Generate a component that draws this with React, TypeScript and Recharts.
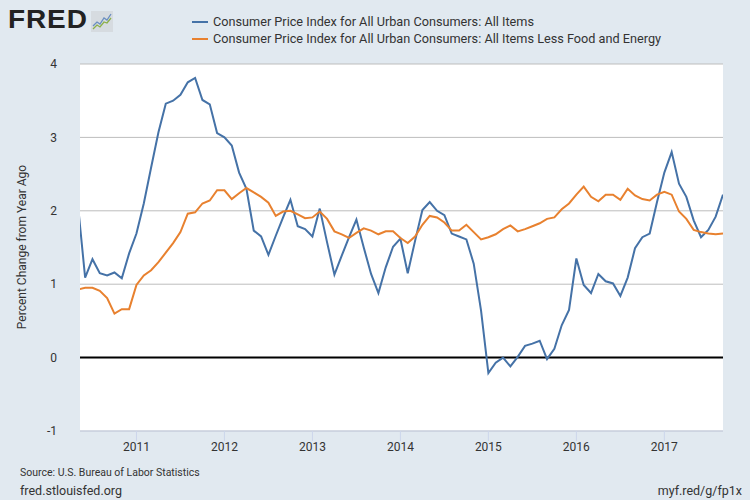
import { LineChart, Line, XAxis, YAxis, CartesianGrid, ReferenceLine } from "recharts";

// monthly observations, May 2010 - Sep 2017 (percent change from year ago)
const startYear = 2010;
const startMonth = 5;

const allItems = [
  // 2010 (May-Dec)
  2.1, 1.09, 1.34, 1.15, 1.12, 1.16, 1.08, 1.42,
  // 2011
  1.69, 2.1, 2.59, 3.07, 3.46, 3.5, 3.58, 3.75, 3.81, 3.51, 3.45, 3.06,
  // 2012
  3.0, 2.89, 2.52, 2.3, 1.73, 1.65, 1.4, 1.66, 1.91, 2.15, 1.79, 1.75,
  // 2013
  1.65, 2.03, 1.57, 1.13, 1.39, 1.64, 1.88, 1.5, 1.14, 0.88, 1.23, 1.51,
  // 2014
  1.62, 1.15, 1.59, 2.01, 2.12, 2.0, 1.94, 1.69, 1.65, 1.61, 1.28, 0.64,
  // 2015
  -0.21, -0.07, 0.0, -0.12, 0.01, 0.16, 0.19, 0.23, -0.02, 0.12, 0.44, 0.65,
  // 2016
  1.35, 0.99, 0.88, 1.14, 1.04, 1.01, 0.84, 1.09, 1.49, 1.64, 1.69, 2.12,
  // 2017 (Jan-Sep)
  2.52, 2.8, 2.37, 2.19, 1.87, 1.64, 1.74, 1.92, 2.22,
];

const lessFoodEnergy = [
  0.93, 0.95, 0.95, 0.91, 0.81, 0.6, 0.66, 0.66,
  0.99, 1.12, 1.19, 1.3, 1.43, 1.56, 1.71, 1.96, 1.98, 2.1, 2.14, 2.28,
  2.28, 2.16, 2.24, 2.31, 2.25, 2.19, 2.11, 1.93, 1.99, 2.0, 1.95, 1.9,
  1.91, 1.99, 1.89, 1.72, 1.68, 1.63, 1.7, 1.76, 1.73, 1.68, 1.72, 1.72,
  1.63, 1.56, 1.65, 1.81, 1.93, 1.91, 1.84, 1.73, 1.73, 1.81, 1.71, 1.61,
  1.64, 1.68, 1.75, 1.8, 1.72, 1.75, 1.79, 1.83, 1.89, 1.91, 2.02, 2.1,
  2.22, 2.33, 2.19, 2.13, 2.22, 2.22, 2.15, 2.3, 2.21, 2.16, 2.14, 2.22,
  2.26, 2.22, 1.99, 1.89, 1.74, 1.71, 1.69, 1.68, 1.69,
];

const yearTicks = [2011, 2012, 2013, 2014, 2015, 2016, 2017];
const yTicks = [-1, 0, 1, 2, 3, 4];

const seriesNames = [
  "Consumer Price Index for All Urban Consumers: All Items",
  "Consumer Price Index for All Urban Consumers: All Items Less Food and Energy",
];
const COLORS = ["#4572a7", "#e8812f"];

const data = allItems.map((v, i) => ({ t: i, all: v, core: lessFoodEnergy[i] }));
const monthOf = (y: number) => (y - startYear) * 12 - (startMonth - 1);

const FONT = "Roboto, 'Open Sans', sans-serif";

export default function App() {
  return (
    <div
      style={{
        position: "absolute",
        left: 0,
        top: 0,
        width: 750,
        height: 500,
        background: "#e1e9f0",
        fontFamily: FONT,
        color: "#333",
        overflow: "hidden",
      }}
    >
      {/* logo */}
      <div style={{ position: "absolute", left: 8, top: 5, fontFamily: "'Liberation Sans', Arial, sans-serif", fontWeight: 900, fontSize: 25, letterSpacing: 0.8, color: "#222", transform: "scaleX(1.12)", transformOrigin: "left" }}>
        FRED
      </div>
      <svg style={{ position: "absolute", left: 91, top: 11 }} width={22} height={21}>
        <rect x={0} y={0} width={22} height={21} fill="#d6dbe0" />
        <polyline points="2,15 6,11 9,13 13,7 16,9 20,3" fill="none" stroke="#6b8fc0" strokeWidth={1.3} />
        <polyline points="2,18 6,14 9,16 13,11 16,12 20,7" fill="none" stroke="#8cb04a" strokeWidth={1.3} />
      </svg>

      {/* legend */}
      {seriesNames.map((name, i) => (
        <div key={name} style={{ position: "absolute", left: 192, top: 14 + i * 17, display: "flex", alignItems: "center", fontSize: 12.7, whiteSpace: "nowrap" }}>
          <span style={{ display: "inline-block", width: 16, height: 2, background: COLORS[i], marginRight: 5 }} />
          {name}
        </div>
      ))}

      {/* y axis title */}
      <div
        style={{
          position: "absolute",
          left: 22 - 150,
          top: 247 - 8,
          width: 300,
          height: 16,
          lineHeight: "16px",
          textAlign: "center",
          fontSize: 12,
          transform: "rotate(-90deg)",
        }}
      >
        Percent Change from Year Ago
      </div>

      <div style={{ position: "absolute", left: 0, top: 0 }}>
        <LineChart width={750} height={500} data={data} margin={{ top: 64, right: 27, bottom: 39, left: 20 }}>
          <CartesianGrid vertical={false} stroke="#bdbdbd" fill="#ffffff" fillOpacity={1} />
          <XAxis
            dataKey="t"
            type="number"
            domain={[0.3, 88]}
            allowDataOverflow
            ticks={yearTicks.map(monthOf)}
            tickFormatter={(t: number) => String(startYear + (t + startMonth - 1) / 12)}
            height={30}
            tickSize={10}
            tickMargin={1}
            stroke="#ccd6eb"
            tick={{ fill: "#333", fontSize: 12, fontFamily: FONT }}
          />
          <YAxis
            type="number"
            domain={[-1, 4]}
            ticks={yTicks}
            allowDataOverflow
            width={60}
            axisLine={false}
            tickLine={false}
            tickMargin={17}
            tick={{ fill: "#333", fontSize: 12, fontFamily: FONT }}
          />
          <ReferenceLine y={0} stroke="#000" strokeWidth={2} />
          <Line type="linear" dataKey="all" stroke={COLORS[0]} strokeWidth={2} dot={false} isAnimationActive={false} />
          <Line type="linear" dataKey="core" stroke={COLORS[1]} strokeWidth={2} dot={false} isAnimationActive={false} />
        </LineChart>
      </div>

      {/* footer */}
      <div style={{ position: "absolute", left: 20, top: 466, fontSize: 10.5 }}>Source: U.S. Bureau of Labor Statistics</div>
      <div style={{ position: "absolute", left: 20, top: 483, fontSize: 12.5 }}>fred.stlouisfed.org</div>
      <div style={{ position: "absolute", right: 8, top: 483, fontSize: 12.5 }}>myf.red/g/fp1x</div>
    </div>
  );
}
